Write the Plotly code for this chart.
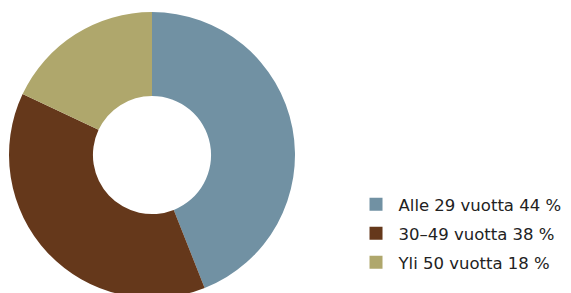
import plotly.graph_objects as go

labels = ["Alle 29 vuotta 44 %", "30–49 vuotta 38 %", "Yli 50 vuotta 18 %"]
values = [44, 38, 18]
colors = ["#7191a3", "#65381b", "#afa76c"]

W, H = 563, 290
fig = go.Figure()
fig.add_trace(go.Pie(
    labels=labels, values=values, hole=0.413, sort=False,
    direction="clockwise", rotation=0, textinfo="none",
    marker=dict(colors=colors, line=dict(width=0)),
    showlegend=False, hoverinfo="label",
    domain=dict(x=[1/W, 287/W], y=[0, 1]),
))
for i, (lab, col) in enumerate(zip(labels, colors)):
    fig.add_trace(go.Scatter(
        x=[None], y=[None], mode="markers", name=lab,
        legendgroup=f"g{i}",
        marker=dict(symbol="square", size=13, color=col, line=dict(width=0)),
        showlegend=True,
    ))

fig.update_layout(
    width=W, height=H,
    margin=dict(l=0, r=0, t=4, b=0),
    paper_bgcolor="white", plot_bgcolor="white",
    xaxis=dict(visible=False), yaxis=dict(visible=False),
    legend=dict(
        x=0.6137, y=0.388, xanchor="left", yanchor="top",
        font=dict(family="DejaVu Sans", size=16.5, color="#222222"),
        tracegroupgap=4.5, itemwidth=35, bgcolor="rgba(0,0,0,0)",
    ),
)
fig.write_html("out.html")
